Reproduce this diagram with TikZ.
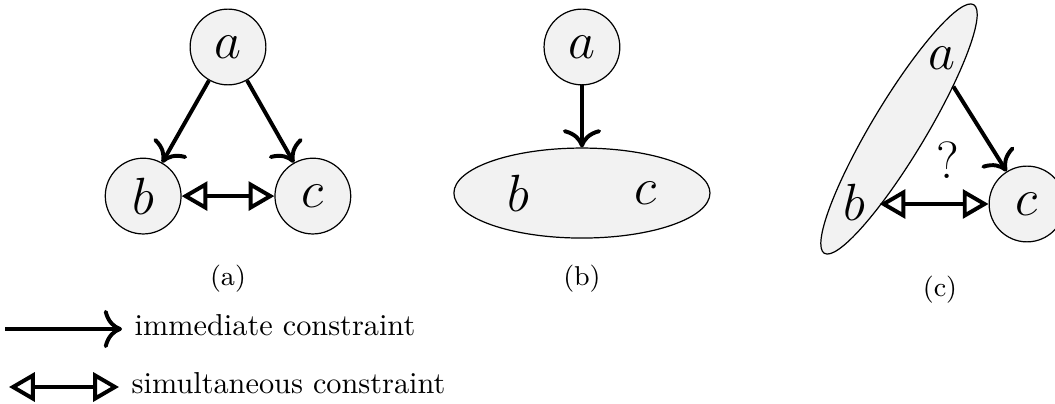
\documentclass[tikz,border=0pt]{standalone}
\usepackage{amsmath}
\usepackage{amssymb}
\usepackage{xcolor}
\usepackage{tikz}
\usetikzlibrary{positioning, arrows.meta, shapes.geometric}

\tikzset{
  var/.style={circle, draw, fill=black!5, minimum size=25pt, inner sep=0pt, font=\LARGE},
  grp/.style={ellipse, draw, fill=black!5, inner sep=0pt},
  lbl/.style={font=\LARGE, inner sep=0pt},
  imm/.style={-{To[scale=1.35]}, line width=1.3pt},
  sim/.style={{Triangle[open,length=8.5pt,width=9.5pt]}-{Triangle[open,length=8.5pt,width=9.5pt]}, line width=1.3pt},
  subcap/.style={font=\small},
  legtext/.style={anchor=mid west, inner xsep=4pt},
}

\begin{document}
\begin{tikzpicture}[x=0.33pt, y=-0.33pt, on grid]
    \useasboundingbox (0,0) rectangle (1055,404);

    % (a)
    \node[var] (aa) at (228,47) {$a$};
    \node[var] (ba) [below left=49.2pt and 28pt of aa] {$b$};
    \node[var] (ca) [below right=49.2pt and 28pt of aa] {$c$};
    \node[subcap] (capa) [below=76.6pt of aa] {(a)};

    \draw[imm] (aa) -- (ba);
    \draw[imm] (aa) -- (ca);
    \draw[sim] (ba) -- (ca);

    % (b)
    \node[var] (ab) [right=116.8pt of aa] {$a$};
    \node[grp, minimum width=84.5pt, minimum height=29.7pt] (bcb) [below=48.2pt of ab] {};
    \node[lbl] (bb) [left=21.1pt of bcb] {$b$};
    \node[lbl] (cb) [right=21.1pt of bcb] {$c$};
    \node[subcap] (capb) [below=76.6pt of ab] {(b)};

    \draw[imm] (ab) -- (bcb);

    % (c)
    \node[grp, minimum width=95.7pt, minimum height=17.8pt, rotate=59] (abc) at (899,129) {};
    \node[lbl] (ac) at ([shift={(59:27.4pt)}]abc.center) {$a$};
    \node[lbl] (bc) at ([shift={(239:28.4pt)}]abc.center) {$b$};
    \node[var] (cc) at (1027,204) {$c$};
    \node[lbl] (qm) at (948,160) {?};
    \node[subcap] (capc) at (940,290) {(c)};

    \draw[imm] (abc.-21) -- (cc);
    \draw[sim] (abc.197 |- cc) -- (cc);

    % legend
    \coordinate (immstart) at (5,329);
    \node[legtext] (immtext) at (122,329) {immediate constraint};
    \draw[imm] (immstart) -- (immtext.mid west);

    \coordinate (simstart) at (9,387);
    \node[legtext] (simtext) at (119,387) {simultaneous constraint};
    \draw[sim] (simstart) -- (simtext.mid west);
\end{tikzpicture}
\end{document}
